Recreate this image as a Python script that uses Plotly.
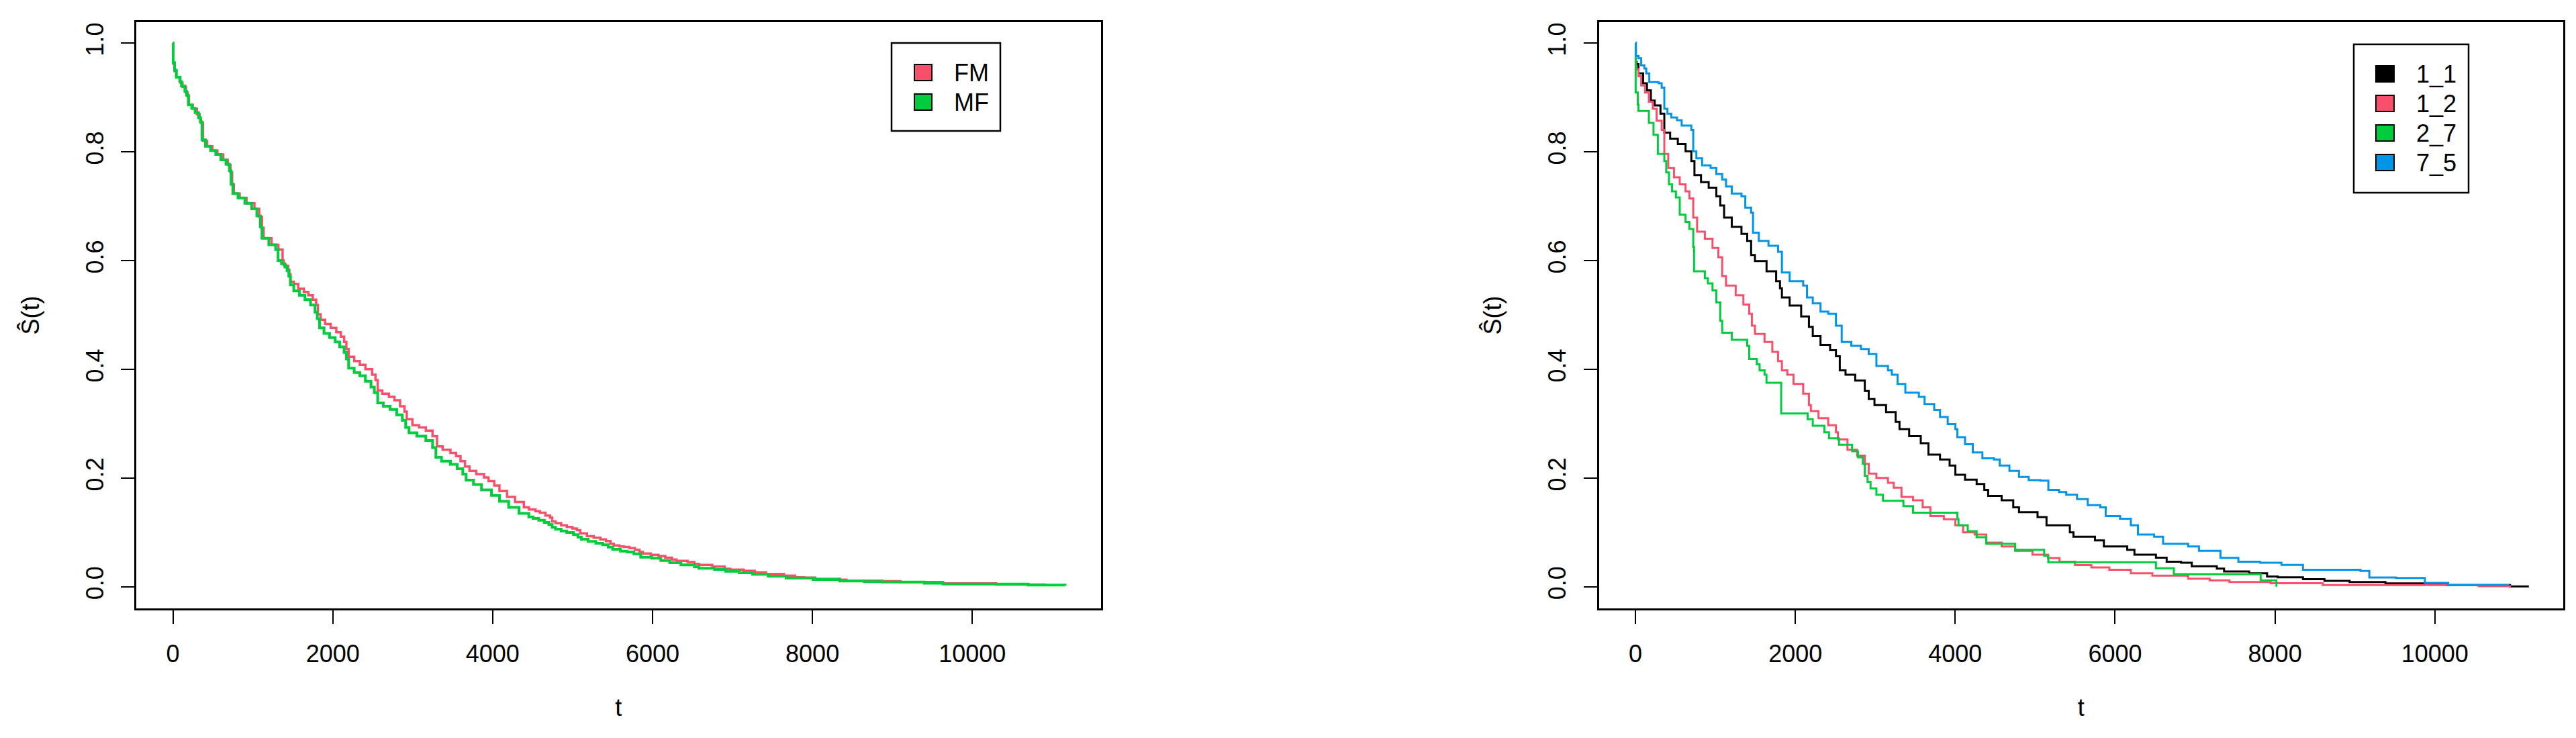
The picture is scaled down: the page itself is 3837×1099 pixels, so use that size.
import plotly.graph_objects as go

W, H = 3837, 1099

# ---------------- data: left panel (FM / MF) ----------------
fm_t = [0, 3, 21, 43, 94, 120, 163, 184, 201, 249, 300, 334, 351, 377, 428, 493, 557, 630, 686, 720,
        741, 763, 835, 921, 1020, 1080, 1114, 1135, 1234, 1320,
        1372, 1386, 1414, 1442, 1456, 1470, 1512, 1568, 1638, 1694, 1750, 1792, 1814, 1848, 1904, 1974,
        2044, 2100, 2142, 2170, 2198, 2268, 2338, 2408, 2492, 2534, 2562, 2618, 2702, 2772, 2842, 2898,
        2926, 2996, 3080, 3164, 3248, 3304, 3374, 3472, 3542, 3598, 3654, 3710, 3794, 3892, 3948,
        4020, 4085, 4180, 4280, 4390,
        4452, 4535, 4591, 4661, 4717, 4745, 4787, 4857, 4927, 4997, 5053, 5095, 5179, 5263, 5347, 5417,
        5473, 5515, 5585, 5641, 5711, 5781, 5837, 5879, 5977, 6075, 6159, 6243, 6299, 6439, 6523, 6579,
        6747, 6901, 6971, 7139, 7279, 7419, 7643, 7783, 7895, 8035, 8343, 8427,
        8869, 9100, 9633, 10300, 10906]
fm_s = [1.0, 0.962, 0.948, 0.937, 0.927, 0.919, 0.909, 0.902, 0.886, 0.879, 0.869, 0.861, 0.853, 0.820, 0.810,
        0.802, 0.795, 0.785, 0.776, 0.762, 0.740, 0.723, 0.715, 0.705, 0.695, 0.680, 0.660, 0.641, 0.629, 0.620,
        0.600, 0.592, 0.590, 0.583, 0.575, 0.561, 0.557, 0.548, 0.542, 0.536, 0.528, 0.518, 0.501, 0.491, 0.483,
        0.476, 0.468, 0.460, 0.450, 0.437, 0.423, 0.415, 0.408, 0.400, 0.390, 0.380, 0.361, 0.355, 0.349, 0.343,
        0.332, 0.322, 0.308, 0.297, 0.293, 0.287, 0.277, 0.258, 0.252, 0.246, 0.240, 0.231, 0.221, 0.213, 0.207,
        0.201, 0.194,
        0.186, 0.176, 0.165, 0.156, 0.146,
        0.142, 0.139, 0.136, 0.131, 0.127, 0.120, 0.117, 0.113, 0.110, 0.107, 0.104, 0.098, 0.093, 0.090, 0.087,
        0.084, 0.079, 0.076, 0.074, 0.073, 0.071, 0.068, 0.064, 0.061, 0.0585, 0.0564, 0.0532, 0.050, 0.0474,
        0.0453, 0.042, 0.040, 0.0371, 0.033, 0.0313, 0.0293, 0.0264, 0.0235, 0.0202, 0.0173, 0.0165, 0.0145,
        0.0128, 0.0112,
        0.0100, 0.0085, 0.0060, 0.0040, 0.0025]

mf_t = [0, 3, 21, 43, 86, 107, 150, 171, 193, 236, 278, 321, 343, 364, 407, 471, 536, 600, 664, 707,
        728, 750, 814, 900, 985, 1050, 1093, 1114, 1200, 1285,
        1316, 1358, 1400, 1428, 1450, 1470, 1512, 1582, 1652, 1722, 1778, 1806, 1834, 1890, 1960, 2030,
        2086, 2142, 2170, 2198, 2268, 2338, 2408, 2478, 2520, 2562, 2632, 2716, 2800, 2870, 2912, 2954,
        3052, 3164, 3248, 3290, 3360, 3472, 3556, 3626, 3668,
        3760, 3860, 3985, 4085, 4200, 4330,
        4452, 4507, 4577, 4647, 4703, 4745, 4787, 4857, 4927, 5011, 5067, 5109, 5193, 5291, 5375, 5445,
        5501, 5599, 5683, 5767, 5852, 5991, 6103, 6215, 6355, 6523, 6579, 6775, 6915, 7083, 7251, 7447,
        7671, 8007, 8343, 8651,
        8869, 9400, 9633, 10700, 11161]
mf_s = [1.0, 0.964, 0.950, 0.937, 0.929, 0.921, 0.911, 0.904, 0.886, 0.880, 0.872, 0.863, 0.855, 0.822, 0.810,
        0.802, 0.795, 0.785, 0.777, 0.765, 0.740, 0.723, 0.715, 0.705, 0.695, 0.682, 0.662, 0.641, 0.629, 0.620,
        0.600, 0.594, 0.588, 0.581, 0.571, 0.555, 0.544, 0.536, 0.528, 0.518, 0.505, 0.493, 0.476, 0.466, 0.458,
        0.450, 0.441, 0.431, 0.419, 0.402, 0.394, 0.388, 0.378, 0.367, 0.357, 0.338, 0.332, 0.326, 0.316, 0.306,
        0.293, 0.283, 0.277, 0.269, 0.256, 0.238, 0.231, 0.225, 0.217, 0.207, 0.196,
        0.188, 0.178, 0.168, 0.157, 0.146, 0.135,
        0.1285, 0.1256, 0.1223, 0.1182, 0.1141, 0.1091, 0.1058, 0.1025, 0.0997, 0.0955, 0.0914, 0.0873, 0.0832,
        0.0799, 0.0770, 0.0729, 0.0688, 0.0655, 0.0638, 0.0606, 0.0544, 0.0523, 0.0482, 0.0441, 0.0400, 0.0367,
        0.0338, 0.0317, 0.0284, 0.0256, 0.0227, 0.0194, 0.0161, 0.0132, 0.0104, 0.0091,
        0.0085, 0.0065, 0.005, 0.003, 0.002]

# ---------------- data: right panel (1_1, 1_2, 2_7, 7_5) ----------------
g11_t = [0, 5, 14, 38, 96, 144, 193, 241, 313, 361, 434, 530, 627, 699, 738, 820, 916, 1012, 1061, 1109,
         1205, 1326, 1398, 1447, 1495, 1640, 1760, 1808, 1832, 1929, 2073, 2170, 2218, 2315, 2435, 2508, 2556,
         2628, 2749, 2869, 2918, 2990, 3135, 3255, 3303, 3424, 3569, 3665, 3810, 3930, 4002, 4123, 4268, 4364,
         4412, 4581, 4726, 4798, 5030, 5142, 5434, 5479, 5748, 5860, 6152, 6242, 6511, 6645, 6825, 6959, 7273,
         7363, 7677, 7901, 8036, 8350, 8619, 8933, 9382, 9875, 10144, 10940, 11176]
g11_s = [1.0, 0.965, 0.961, 0.944, 0.926, 0.913, 0.894, 0.885, 0.870, 0.835, 0.824, 0.814, 0.801, 0.783, 0.757,
         0.744, 0.734, 0.718, 0.701, 0.679, 0.662, 0.649, 0.636, 0.610, 0.599, 0.580, 0.562, 0.549, 0.532, 0.517,
         0.497, 0.478, 0.461, 0.445, 0.435, 0.424, 0.398, 0.390, 0.379, 0.360, 0.345, 0.334, 0.321, 0.303, 0.290,
         0.277, 0.264, 0.243, 0.234, 0.223, 0.206, 0.197, 0.189, 0.178, 0.167, 0.159, 0.146, 0.137, 0.128, 0.113,
         0.100, 0.092, 0.085, 0.074, 0.068, 0.059, 0.0535, 0.046, 0.044, 0.0375, 0.0332, 0.028, 0.0245, 0.0189,
         0.0172, 0.0137, 0.0107, 0.0085, 0.006, 0.0051, 0.003, 0.0005, 0.0005]

g12_t = [0, 5, 14, 38, 72, 120, 168, 217, 265, 328, 361, 410, 482, 554, 627, 675, 723, 771, 868, 964, 1037,
         1085, 1133, 1254, 1350, 1423, 1456, 1495, 1615, 1712, 1784, 1832, 1900, 1977, 2098, 2170, 2194, 2290,
         2411, 2508, 2532, 2652, 2773, 2869, 2918, 3014, 3159, 3231, 3328, 3472, 3593, 3689, 3858, 4002, 4099,
         4244, 4389, 4581, 4750, 4967, 5160, 5305, 5498, 5703, 5928, 6197, 6466, 6914, 7183, 7430, 7946, 8597,
         10548, 10952]
g12_s = [1.0, 0.958, 0.952, 0.939, 0.922, 0.909, 0.892, 0.879, 0.857, 0.840, 0.796, 0.770, 0.753, 0.740, 0.727,
         0.714, 0.679, 0.653, 0.640, 0.623, 0.606, 0.571, 0.554, 0.536, 0.519, 0.502, 0.480, 0.465, 0.450, 0.432,
         0.415, 0.398, 0.390, 0.373, 0.355, 0.334, 0.323, 0.310, 0.297, 0.284, 0.271, 0.252, 0.241, 0.226, 0.208,
         0.200, 0.191, 0.182, 0.165, 0.159, 0.146, 0.130, 0.124, 0.113, 0.100, 0.096, 0.081, 0.074, 0.066, 0.059,
         0.0526, 0.046, 0.0397, 0.0353, 0.031, 0.0245, 0.0202, 0.0146, 0.0116, 0.0085, 0.0064, 0.003, 0.001, 0.001]

g27_t = [0, 3, 29, 38, 168, 226, 280, 361, 385, 419, 458, 506, 554, 627, 675, 723, 733, 868, 906, 964, 1012,
         1061, 1085, 1205, 1398, 1423, 1519, 1553, 1615, 1639, 1823, 2155, 2218, 2363, 2421, 2546, 2710, 2783,
         2845, 2869, 2903, 2941, 3014, 3096, 3352, 3472, 4027, 4041, 4157, 4268, 4389, 4750, 5112, 5165, 6511,
         6735, 7821, 8018]
g27_s = [1.0, 0.909, 0.887, 0.875, 0.853, 0.831, 0.796, 0.783, 0.762, 0.740, 0.727, 0.716, 0.684, 0.671, 0.658,
         0.625, 0.580, 0.567, 0.558, 0.545, 0.523, 0.489, 0.467, 0.454, 0.443, 0.419, 0.409, 0.398, 0.390, 0.375,
         0.3185, 0.308, 0.296, 0.284, 0.273, 0.261, 0.249, 0.238, 0.226, 0.204, 0.193, 0.181, 0.169, 0.158, 0.148,
         0.136, 0.124, 0.113, 0.102, 0.091, 0.079, 0.068, 0.057, 0.045, 0.034, 0.023, 0.0116, 0.0]

g75_t = [0, 5, 38, 72, 111, 135, 173, 289, 328, 361, 400, 448, 520, 578, 699, 723, 762, 834, 940, 1012, 1085,
         1133, 1205, 1326, 1374, 1447, 1471, 1543, 1664, 1784, 1832, 1929, 2098, 2146, 2218, 2315, 2411, 2508,
         2580, 2700, 2821, 2918, 3014, 3159, 3207, 3279, 3376, 3545, 3617, 3737, 3810, 3906, 4002, 4027, 4123,
         4220, 4340, 4485, 4557, 4678, 4798, 4919, 5064, 5165, 5299, 5389, 5524, 5658, 5815, 5883, 6062, 6197,
         6286, 6488, 6600, 6914, 7049, 7318, 7542, 7812, 8081, 8350, 9068, 9180, 9516, 9875, 10167, 10929]
g75_s = [1.0, 0.976, 0.972, 0.959, 0.953, 0.944, 0.928, 0.926, 0.918, 0.879, 0.870, 0.863, 0.858, 0.848, 0.840,
         0.801, 0.788, 0.775, 0.770, 0.759, 0.749, 0.736, 0.723, 0.718, 0.697, 0.688, 0.651, 0.636, 0.627, 0.616,
         0.578, 0.562, 0.554, 0.532, 0.521, 0.506, 0.502, 0.480, 0.450, 0.443, 0.437, 0.428, 0.406, 0.398, 0.390,
         0.373, 0.357, 0.349, 0.336, 0.325, 0.312, 0.299, 0.290, 0.275, 0.262, 0.247, 0.236, 0.234, 0.223, 0.213,
         0.202, 0.196, 0.195, 0.178, 0.174, 0.169, 0.161, 0.150, 0.146, 0.130, 0.125, 0.113, 0.096, 0.092, 0.079,
         0.074, 0.066, 0.053, 0.046, 0.044, 0.040, 0.031, 0.029, 0.017, 0.016, 0.007, 0.003, 0.003]

x_ticks = [0, 2000, 4000, 6000, 8000, 10000]
x_ticktext = ["0", "2000", "4000", "6000", "8000", "10000"]
y_ticks = [0.0, 0.2, 0.4, 0.6, 0.8, 1.0]
y_ticktext = ["0.0", "0.2", "0.4", "0.6", "0.8", "1.0"]

left_names = ["FM", "MF"]
right_names = ["1_1", "1_2", "2_7", "7_5"]

RED = "#F8506A"
GREEN = "#00CC3E"
BLUE = "#0095E6"
BLACK = "#000000"
left_colors = [RED, GREEN]
right_colors = [BLACK, RED, GREEN, BLUE]

FONT = "Liberation Sans, Arial, Helvetica, sans-serif"
FS = 36

fig = go.Figure()


def add(t, s, color, width, xa, ya, name):
    fig.add_trace(go.Scatter(x=t, y=s, mode="lines", name=name, showlegend=False,
                             line=dict(color=color, width=width, shape="hv"),
                             xaxis=xa, yaxis=ya, hoverinfo="x+y+name"))


add(fm_t, fm_s, RED, 3.5, "x", "y", "FM")
add(mf_t, mf_s, GREEN, 4, "x", "y", "MF")
add(g11_t, g11_s, BLACK, 3, "x2", "y2", "1_1")
add(g12_t, g12_s, RED, 3, "x2", "y2", "1_2")
add(g27_t, g27_s, GREEN, 3, "x2", "y2", "2_7")
add(g75_t, g75_s, BLUE, 3, "x2", "y2", "7_5")

ydom = [1 - 898 / H, 1 - 25 / H]
xdom1 = [195 / W, 1631.5 / W]
xdom2 = [2373.5 / W, 3810 / W]

xcommon = dict(range=[-458, 11606], tickmode="array", tickvals=x_ticks, ticktext=x_ticktext,
               ticks="outside", ticklen=20, tickwidth=2, tickcolor="black",
               showline=True, linecolor="black", linewidth=2.5, mirror=True,
               showgrid=False, zeroline=False,
               tickfont=dict(family=FONT, size=FS, color="black"), ticklabelstandoff=14,
               title=dict(text="t", font=dict(family=FONT, size=FS, color="black"), standoff=48))
ycommon = dict(range=[-0.0399, 1.0383], domain=ydom, tickmode="array", tickvals=y_ticks, ticktext=y_ticktext,
               ticks="outside", ticklen=20, tickwidth=2, tickcolor="black",
               showline=True, linecolor="black", linewidth=2.5, mirror=True,
               showgrid=False, zeroline=False, tickangle=-90,
               tickfont=dict(family=FONT, size=FS, color="black"), ticklabelstandoff=12,
               title=dict(text="Ŝ(t)", font=dict(family=FONT, size=FS, color="black"), standoff=52))

fig.update_layout(
    width=W, height=H,
    margin=dict(l=0, r=0, t=0, b=0),
    paper_bgcolor="white", plot_bgcolor="white",
    font=dict(family=FONT, size=FS, color="black"),
    showlegend=False,
    xaxis=dict(domain=xdom1, anchor="y", **xcommon),
    yaxis=dict(anchor="x", **ycommon),
    xaxis2=dict(domain=xdom2, anchor="y2", **xcommon),
    yaxis2=dict(anchor="x2", **ycommon),
)


# ---------------- legends (drawn like R's legend boxes) ----------------
def px(x):
    return x / W


def py(y):
    return 1 - y / H


shapes = []
annotations = []


def legend_box(x0, y0, x1, y1, sq_x0, sq_x1, txt_x, row_y, names, colors):
    shapes.append(dict(type="rect", xref="paper", yref="paper", x0=px(x0), x1=px(x1), y0=py(y0), y1=py(y1),
                       line=dict(color="black", width=2.5), fillcolor="rgba(0,0,0,0)", layer="above"))
    for i, (nm, col) in enumerate(zip(names, colors)):
        cy = row_y[i]
        shapes.append(dict(type="rect", xref="paper", yref="paper", x0=px(sq_x0), x1=px(sq_x1),
                           y0=py(cy + 12), y1=py(cy - 12), fillcolor=col,
                           line=dict(color="black", width=2), layer="above"))
        annotations.append(dict(xref="paper", yref="paper", x=px(txt_x), y=py(cy), text=nm, showarrow=False,
                                xanchor="left", yanchor="middle",
                                font=dict(family=FONT, size=FS, color="black")))


legend_box(1320, 56, 1482, 187, 1354, 1380, 1411, [100, 144], left_names, left_colors)
legend_box(3498, 58, 3669, 279, 3531, 3558, 3589, [102, 146, 190, 234], right_names, right_colors)

fig.update_layout(shapes=shapes, annotations=annotations)

fig.write_html("out.html")
